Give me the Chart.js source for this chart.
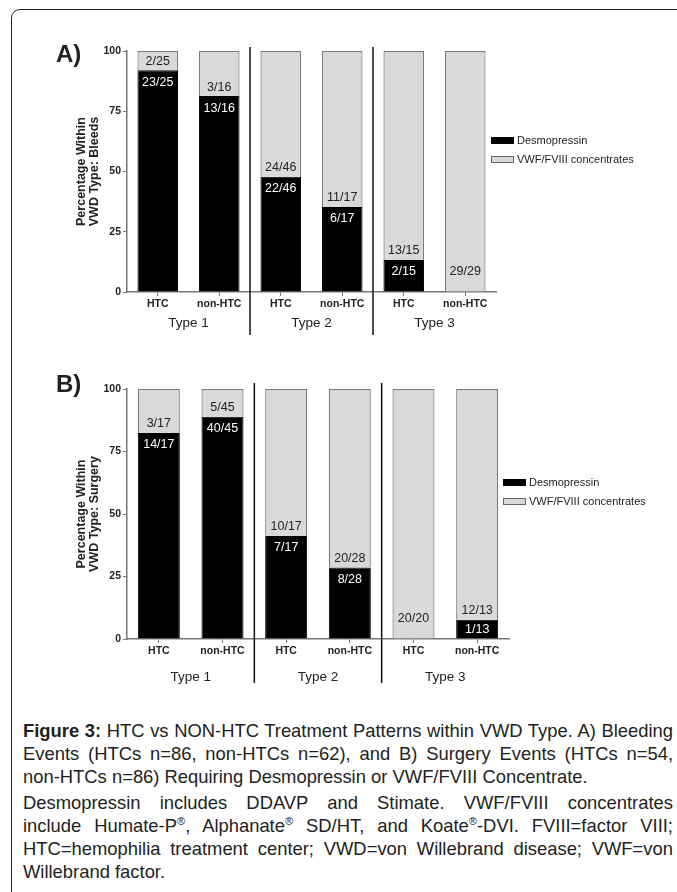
<!DOCTYPE html>
<html lang="en">
<head>
<meta charset="UTF-8" />
<title>Figure 3 - HTC vs NON-HTC Treatment Patterns</title>
<style>
  body { margin: 0; background: #fff; font-family: "Liberation Sans", Arial, sans-serif; color: #222; }
  .page { position: relative; width: 677px; height: 892px; overflow: hidden; }
  .frame { position: absolute; left: 11px; top: 9px; width: 700px; height: 900px; border: 1.5px solid #222; border-top-left-radius: 9px; }
  .box { position: absolute; left: 0; width: 677px; }
  .tag { position: absolute; left: 56px; font-weight: bold; font-size: 24px; line-height: 24px; }
  .caption { position: absolute; left: 23px; width: 650px; font-size: 18.4px; line-height: 23px; }
  .caption div { white-space: nowrap; }
  .j { text-align: justify; text-align-last: justify; }
  sup { font-size: 0.6em; line-height: 0; vertical-align: 0.6em; }
</style>
<script src="https://cdn.jsdelivr.net/npm/chart.js"></script>
</head>
<body>
<div class="page">
  <div class="frame"></div>

  <div class="box" style="top:0; height:345px"><canvas id="bleedsChart"></canvas></div>
  <div class="tag" style="top:42px">A)</div>

  <div class="box" style="top:345px; height:350px"><canvas id="surgeryChart"></canvas></div>
  <div class="tag" style="top:372px">B)</div>

  <div class="caption" style="top:719px">
    <div class="j"><b>Figure 3:</b> HTC vs NON-HTC Treatment Patterns within VWD Type. A) Bleeding</div>
    <div class="j">Events (HTCs n=86, non-HTCs n=62), and B) Surgery Events (HTCs n=54,</div>
    <div>non-HTCs n=86) Requiring Desmopressin or VWF/FVIII Concentrate.</div>
  </div>
  <div class="caption" style="top:791px">
    <div class="j">Desmopressin includes DDAVP and Stimate. VWF/FVIII concentrates</div>
    <div class="j">include Humate-P<sup>®</sup>, Alphanate<sup>®</sup> SD/HT, and Koate<sup>®</sup>-DVI. FVIII=factor VIII;</div>
    <div class="j">HTC=hemophilia treatment center; VWD=von Willebrand disease; VWF=von</div>
    <div>Willebrand factor.</div>
  </div>
</div>

<script>
  var categories = ["HTC", "non-HTC", "HTC", "non-HTC", "HTC", "non-HTC"];
  var types = ["Type 1", "Type 2", "Type 3"];
  var seriesNames = ["Desmopressin", "VWF/FVIII concentrates"];
  var yTicks = [0, 25, 50, 75, 100];

  // A) bleeding events, percentage within VWD type
  var bleedsDesmo = [92, 81.3, 47.8, 35.3, 13.3, 0];
  var bleedsVwf = [8, 18.7, 52.2, 64.7, 86.7, 100];
  var bleedsDesmoLabels = ["23/25", "13/16", "22/46", "6/17", "2/15", ""];
  var bleedsVwfLabels = ["2/25", "3/16", "24/46", "11/17", "13/15", "29/29"];

  // B) surgery events
  var surgeryDesmo = [82.4, 88.9, 41.2, 28.6, 0, 7.7];
  var surgeryVwf = [17.6, 11.1, 58.8, 71.4, 100, 92.3];
  var surgeryDesmoLabels = ["14/17", "40/45", "7/17", "8/28", "", "1/13"];
  var surgeryVwfLabels = ["3/17", "5/45", "10/17", "20/28", "20/20", "12/13"];

  var FONT = '"Liberation Sans", Arial, sans-serif';
  var BLACK = "#000000";
  var GREY = "#d9d9d9";
  var GREY_EDGE = "#7a7a7a";

  // counts inside the bars, group dividers + "Type n" labels, and the legend
  var decorPlugin = {
    id: "vwdDecor",
    afterDatasetsDraw: function (chart, args, opts) {
      var ctx = chart.ctx;
      var x = chart.scales.x, y = chart.scales.y;
      var zero = y.getPixelForValue(0);
      var desmo = chart.data.datasets[0].data;
      ctx.save();
      ctx.font = "12.5px " + FONT;
      ctx.textAlign = "center";
      ctx.textBaseline = "middle";
      for (var i = 0; i < desmo.length; i++) {
        var cx = x.getPixelForValue(i);
        var edge = y.getPixelForValue(desmo[i]);
        if (opts.desmoLabels[i]) {
          ctx.fillStyle = "#ffffff";
          ctx.fillText(opts.desmoLabels[i], cx, Math.min(edge + 12, zero - 9));
        }
        if (opts.vwfLabels[i]) {
          ctx.fillStyle = "#222";
          ctx.fillText(opts.vwfLabels[i], cx, Math.min(edge - 9, zero - 20));
        }
      }
      ctx.restore();
    },
    afterDraw: function (chart, args, opts) {
      var ctx = chart.ctx;
      var x = chart.scales.x;
      var area = chart.chartArea;
      ctx.save();

      // dividers between types
      ctx.strokeStyle = "#111";
      ctx.lineWidth = 1.5;
      [2, 4].forEach(function (k) {
        var dx = (x.getPixelForValue(k - 1) + x.getPixelForValue(k)) / 2;
        ctx.beginPath();
        ctx.moveTo(dx, area.top - opts.divTop);
        ctx.lineTo(dx, area.bottom + opts.divBottom);
        ctx.stroke();
      });

      // Type labels
      ctx.fillStyle = "#222";
      ctx.font = "13.5px " + FONT;
      ctx.textAlign = "center";
      ctx.textBaseline = "middle";
      types.forEach(function (t, k) {
        var cx = (x.getPixelForValue(2 * k) + x.getPixelForValue(2 * k + 1)) / 2;
        ctx.fillText(t, cx, area.bottom + opts.typeOffset);
      });

      // legend
      ctx.font = "11px " + FONT;
      ctx.textAlign = "left";
      chart.data.datasets.forEach(function (ds, k) {
        var lx = area.right + opts.legendDx;
        var ly = area.top + opts.legendDy + k * 19;
        ctx.fillStyle = ds.backgroundColor;
        ctx.fillRect(lx, ly, 23, 7);
        ctx.strokeStyle = k === 0 ? BLACK : "#666";
        ctx.lineWidth = 1;
        ctx.strokeRect(lx + 0.5, ly + 0.5, 22, 6);
        ctx.fillStyle = "#222";
        ctx.fillText(ds.label, lx + 26, ly + 4);
      });
      ctx.restore();
    }
  };

  function makeChart(id, desmo, vwf, desmoLabels, vwfLabels, yTitle, pad, decor) {
    var ctx = document.getElementById(id).getContext("2d");
    return new Chart(ctx, {
      type: "bar",
      data: {
        labels: categories,
        datasets: [
          {
            label: seriesNames[0],
            data: desmo,
            backgroundColor: BLACK,
            borderColor: BLACK,
            borderWidth: 1,
          },
          {
            label: seriesNames[1],
            data: vwf,
            backgroundColor: GREY,
            borderColor: GREY_EDGE,
            borderWidth: 1.2,
          },
        ],
      },
      options: {
        responsive: true,
        maintainAspectRatio: false,
        animation: false,
        datasets: { bar: { categoryPercentage: 1, barPercentage: 0.66 } },
        layout: { padding: pad },
        plugins: {
          legend: { display: false },
          tooltip: { enabled: false },
          vwdDecor: Object.assign({ desmoLabels: desmoLabels, vwfLabels: vwfLabels }, decor),
        },
        scales: {
          x: {
            stacked: true,
            offset: true,
            afterFit: function (scale) { scale.height = 45; },
            grid: { display: true, drawOnChartArea: false, drawTicks: true, tickLength: 4, offset: false, color: "#777" },
            border: { display: true, color: "#777", width: 1.5 },
            ticks: { color: "#222", font: { family: FONT, size: 10.5, weight: "bold" }, padding: 2, maxRotation: 0, autoSkip: false },
          },
          y: {
            stacked: true,
            min: 0,
            max: 100,
            afterFit: function (scale) { scale.width = 55.5; },
            afterBuildTicks: function (scale) {
              scale.ticks = yTicks.map(function (v) { return { value: v }; });
            },
            grid: { display: true, drawOnChartArea: false, drawTicks: true, tickLength: 4, color: "#777" },
            border: { display: true, color: "#777", width: 1.5 },
            ticks: { color: "#222", font: { family: FONT, size: 10.5, weight: "bold" }, padding: 2 },
            title: {
              display: true,
              text: ["Percentage Within", yTitle],
              color: "#222",
              font: { family: FONT, size: 12.5, weight: "bold", lineHeight: 1 },
              padding: { top: 4, bottom: 0 },
            },
          },
        },
      },
      plugins: [decorPlugin],
    });
  }

  var bleedsChart = makeChart(
    "bleedsChart", bleedsDesmo, bleedsVwf, bleedsDesmoLabels, bleedsVwfLabels,
    "VWD Type: Bleeds",
    { top: 51, left: 71.5, right: 181, bottom: 8 },
    { divTop: 4, divBottom: 43, typeOffset: 31, legendDx: -5, legendDy: 86 }
  );

  var surgeryChart = makeChart(
    "surgeryChart", surgeryDesmo, surgeryVwf, surgeryDesmoLabels, surgeryVwfLabels,
    "VWD Type: Surgery",
    { top: 44, left: 71.5, right: 168, bottom: 11 },
    { divTop: 6, divBottom: 44, typeOffset: 38, legendDx: -6, legendDy: 90 }
  );
</script>
</body>
</html>
